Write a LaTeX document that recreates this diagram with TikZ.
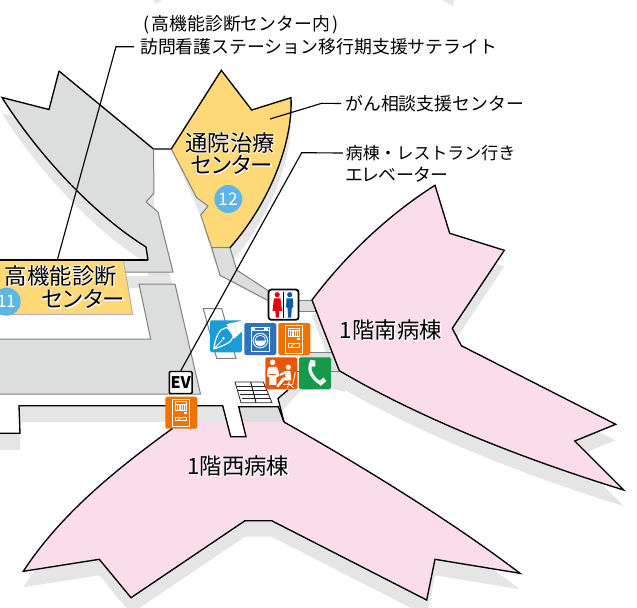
\documentclass[tikz,border=0pt]{standalone}
\usepackage{fontspec}
\setmainfont{Noto Sans CJK JP}
\newfontfamily\halofont[FakeBold=6]{Noto Sans CJK JP}
\newfontfamily\paltfont[RawFeature=+palt]{Noto Sans CJK JP}
\newfontfamily\paltfalo[FakeBold=6,RawFeature=+palt]{Noto Sans CJK JP}
\newcommand\hl[1]{\leavevmode\rlap{\color{white}\halofont #1}#1}
\newcommand\hlp[1]{\leavevmode\rlap{\color{white}\paltfalo #1}{\paltfont #1}}
\definecolor{wingpink}{HTML}{FADCEB}
\definecolor{wardgrey}{HTML}{DCDDDD}
\definecolor{shadowgrey}{HTML}{E5E5E5}
\definecolor{edgegrey}{HTML}{808080}
\definecolor{clinicyellow}{HTML}{FFD977}
\definecolor{numblue}{HTML}{5CB6E6}
\definecolor{vendorange}{HTML}{EF7300}
\definecolor{sitorange}{HTML}{EA5504}
\definecolor{penblue}{HTML}{1B9BD8}
\definecolor{washblue}{HTML}{2F72BA}
\definecolor{phonegreen}{HTML}{159A4B}
\definecolor{wcred}{HTML}{E60012}
\definecolor{wcblue}{HTML}{0C5DA8}
\tikzset{
  x=0.75pt,y=-0.75pt,
  blackedge/.style={draw=black,line width=1pt,line join=miter},
  greyedge/.style={draw=edgegrey,line width=0.75pt},
  leader/.style={draw=black,line width=0.85pt},
  biglabel/.style={inner sep=0pt,font=\fontsize{16.8}{20}\selectfont,text=black},
  outlabel/.style={inner sep=0pt,anchor=west,font=\fontsize{13.4}{16}\selectfont,text=black},
  numdot/.style={circle,fill=numblue,minimum size=21pt,inner sep=0pt,text=white,font=\fontsize{13}{13}\selectfont},
  iconbox/.style={fill=#1,rounded corners=1.2pt,draw=none},
  iconline/.style={draw=white,line width=0.5pt},
}
\newcommand\vendicon[2]{%
\begin{scope}[shift={(#1,#2)}]
\path[iconbox=vendorange] (0,0) rectangle (32,32);
\draw[iconline,line width=.7pt] (7.3,2.3) rectangle (24.3,30);
\draw[iconline] (9.7,5) rectangle (21.3,13.3);
\foreach \xx in {11.6,13.5,15.4,17.3,19.2}{\draw[iconline,line width=.35pt] (\xx,7.5)--(\xx,13.3);}
\draw[iconline,line width=.35pt] (9.7,7.5)--(21.3,7.5);
\fill[white] (19,15) rectangle (21.3,17.3);
\draw[iconline] (9.7,20.7) rectangle (21.3,24);
\draw[iconline] (12.5,23.5)--(16,21.2);
\end{scope}}
\newcommand\MapPoly{(2,97.5) -- (49,109.5) -- (59,71) -- (153.5,149) -- (154,193) -- (146,202) -- (158,212) -- (173,272) -- (125,272) -- (123,260) -- (148,260) -- (146,247) .. controls (90,212) and (35,150) .. (2,97.5) -- cycle}
\newcommand\YellowPoly{(171.3,149) -- (221.3,70.3) -- (251.7,110) -- (291,97.7) .. controls (293,140) and (272,200) .. (230,247.7) -- (211.7,247.7) -- (200.7,215) -- (208,206) -- (196.7,197.7) -- cycle}
\newcommand\SouthPoly{(312,300) .. controls (345,256) and (388,215) .. (435,185.3) -- (449.7,233.3) -- (504.3,250.3) -- (452.3,328.3) -- (461.3,345.7) -- (615.7,424.3) -- (574.7,441) -- (623.7,490) .. controls (520,458) and (420,418) .. (339.3,370.7) -- cycle}
\newcommand\WestOutline{(284,422) .. controls (360,465) and (450,520) .. (520,573.3) -- (435,559.3) -- (426.7,600) -- (271.7,520.7) -- (245,520.7) -- (131,597.7) -- (99.3,559.3) -- (23.3,571.3) .. controls (60,515) and (115,470) .. (172.7,428.3)}
\begin{document}
\begin{tikzpicture}
\useasboundingbox (0,0) rectangle (637,608);
\fill[white] (0,0) rectangle (637,608);
% shadows
\begin{scope}[shift={(0,16)}]
\fill[shadowgrey] \MapPoly;
\fill[shadowgrey] \YellowPoly;
\fill[shadowgrey] \SouthPoly;
\fill[shadowgrey] \WestOutline -- cycle;
\end{scope}
\fill[shadowgrey] (153,0) -- (157,3.5) -- (162,0) -- cycle;
\fill[shadowgrey] (441.7,0) -- (453,6) -- (454,0) -- cycle;
\fill[shadowgrey] (0,433.3) rectangle (20,450);
\fill[shadowgrey] (279,399) -- (282,411) -- (300,391) -- (330,388) -- (345,392) -- (339,371) -- (300,371) -- (288,390) -- cycle;
% clear the shadow that falls on the open hall
\fill[white] (153,165) -- (173,272) -- (173,284) -- (200,394) -- (204,406) -- (238,406) -- (278,398) -- (290,352) -- (312,310) -- (268,300) -- (218,273) -- (200,215) -- (171.3,149) -- cycle;
% left ward
\fill[wardgrey] \MapPoly;
\draw[blackedge] (59,71) -- (153.5,149) -- (171.3,149);
\draw[blackedge] (146,247) .. controls (90,212) and (35,150) .. (2,97.5) -- (49,109.5) -- (59,71);
\draw[blackedge] (146,247) -- (148,260);
\draw[greyedge] (153.5,149) -- (154,193) -- (146,202) -- (158,212) -- (173,272) -- (125,272);
% lower hall block
\fill[wardgrey] (139,284) -- (175,284) -- (200,394) -- (0,394) -- (0,339) -- (150.7,339) -- cycle;
\draw[greyedge] (0,339) -- (150.7,339) -- (139,284) -- (175,284) -- (200.5,394) -- (0,394);
% clinic 11
\fill[clinicyellow] (0,260) -- (123.3,260) -- (132.7,314.3) -- (0,314.3) -- cycle;
\draw[greyedge,draw=gray!60] (123.3,260) -- (132.7,314.3) -- (0,314.3);
\draw[blackedge] (0,260) -- (148,260);
% clinic 12 corridor
\fill[wardgrey] (211.7,247.7) -- (230,247.7) -- (236.7,270) -- (268.3,290.7) -- (268.3,300.7) -- (220,275.3) -- cycle;
\draw[greyedge] (230,247.7) -- (236.7,270) -- (268.3,290.7) (211.7,247.7) -- (220,275.3) -- (268.3,300.7);
% clinic 12
\fill[clinicyellow] \YellowPoly;
\draw[greyedge] (171.3,149) -- (196.7,197.7) -- (208,206) -- (200.7,215) -- (211.7,247.7) -- (230,247.7);
\draw[blackedge] (171.3,149) -- (221.3,70.3) -- (251.7,110) -- (291,97.7) .. controls (293,140) and (272,200) .. (230,247.7);
% right corridors
\fill[wardgrey] (299,300.7) -- (312,300.7) -- (316,311) -- (299,311) -- cycle;
\draw[greyedge] (299,300.7) -- (312,300.7) (299,311) -- (316,311);
\fill[wardgrey] (300,352.7) -- (333,352.7) -- (339,371) -- (300,371) -- cycle;
\draw[greyedge] (300,352.7) -- (333,352.7) (288,371) -- (339,371);
% south ward
\fill[wingpink] \SouthPoly;
\draw[blackedge] \SouthPoly;
% west corridor + ward
\fill[shadowgrey] (19,405.7) -- (222.7,405.7) -- (227,422) -- (19,422) -- cycle;
\fill[wardgrey] (238.7,406.7) -- (278.3,406.7) -- (284,422) -- (242.6,422) -- cycle;
\fill[wingpink] \WestOutline -- (176,422) -- (226.8,422) -- (230.7,436.7) -- (246,436.7) -- (242.6,422) -- cycle;
\draw[blackedge] \WestOutline;
\draw[blackedge] (0,433.3) -- (20,433.3) -- (19,405.7) -- (222.7,405.7) -- (230.7,436.7) -- (246,436.7) -- (238.7,406.7) -- (278.3,406.7) -- (284,422);
\draw[blackedge] (288,390) -- (278,398.5) -- (284,422);
% parallelogram under the pen
\draw[greyedge] (203.3,308.7) -- (221.7,308.7) -- (236,358.3) -- (216.7,358.3) -- cycle;
% stairs
\draw[draw=black!85,line width=.6pt] (235,382) -- (263.3,382) -- (272,402.7) -- (241,402.7) -- cycle;
\foreach \yy/\xa/\xb in {386/236.7/265,390/238.4/266.7,394/240/268.4,398/241.6/270}{\draw[draw=black!85,line width=.6pt] (\xa,\yy) -- (\xb,\yy);}
\draw[draw=black!85,line width=.8pt] (250.7,382) -- (256,402.7);
% labels and leaders
\node[outlabel] (tparen) at (143.3,25) {(\hspace{1.5pt}高機能診断センター内\hspace{1.5pt})};
\node[outlabel] (tvisit) at (140,46.7) {訪問看護ステーション移行期支援サテライト};
\node[outlabel] (tcancer) at (345,103.5) {がん相談支援センター};
\node[outlabel,font=\fontsize{12.7}{16}\selectfont] (tev) at (345.6,153) {病棟・レストラン行き};
\node[outlabel] (tev2) at (345.6,174.5) {\paltfont エレベーター};
\node[draw=black,line width=1.1pt,fill=white,rounded corners=.8pt,minimum width=17pt,minimum height=16.5pt,inner sep=0pt,font=\fontsize{12}{12}\selectfont\bfseries] (ev) at (180.7,382.5) {EV};
\coordinate (c11) at (57.3,260);
\coordinate (b1) at (116,46.7);
\coordinate (c12) at (270,119);
\coordinate (b2) at (321.7,103.3);
\coordinate (b3) at (301.7,152.7);
\draw[leader] (tvisit.west) ++(-6,0) -- (b1) -- (c11);
\draw[leader] (c12) -- (b2) -- ([xshift=-3pt]tcancer.west);
\draw[leader] (ev.north) -- (b3) -- ([xshift=-2pt]tev.west);
% big labels
\node[biglabel] (n12a) at (230,142.7) {\hl{通院治療}};
\node[biglabel] (n12b) at (231.7,165) {\hlp{センター}};
\node[numdot] (n12) at (228.3,199) {12};
\node[biglabel] (n11a) at (61,275.7) {\hl{高機能診断}};
\node[biglabel] (n11b) at (83.3,299.3) {\hlp{センター}};
\node[numdot] (n11) at (6.7,301.7) {11};
\node[biglabel] (south) at (391,330) {\hl{1階南病棟}};
\node[biglabel] (west) at (238.3,466) {\hl{1階西病棟}};
% vending
\vendicon{165.3}{396.7}
\vendicon{278.3}{323}
% WC
\begin{scope}
\draw[draw=black,line width=1.3pt,fill=white,rounded corners=2pt] (268.6,289.6) rectangle (298.6,319.8);
\draw[draw=black,line width=.8pt] (283.6,292) -- (283.6,317.5);
\fill[wcred] (277.2,294.7) circle[radius=2.6];
\fill[wcred] (274,298.3) -- (280.5,298.3) -- (282,310.8) -- (279.2,310.8) -- (278.8,317.7) -- (275.8,317.7) -- (275.4,310.8) -- (272.5,310.8) -- cycle;
\fill[wcblue] (289.7,294.7) circle[radius=2.6];
\fill[wcblue] (286.5,298.3) -- (292.9,298.3) -- (293.3,307) -- (291.8,308) -- (291.2,317.7) -- (288.2,317.7) -- (287.6,308) -- (286.1,307) -- cycle;
\end{scope}
% pen
\begin{scope}[shift={(210,320.3)}]
\path[iconbox=penblue] (0,0) rectangle (32,32);
\draw[draw=white,line width=.9pt,line join=round] (3.8,28.5) .. controls (5,20) and (7,14) .. (11,9.5) -- (17,7) -- (24,15) -- (20.5,21) .. controls (15,25) and (9,27) .. (3.8,28.5) -- cycle;
\draw[draw=white,line width=.6pt] (3.8,28.5) -- (12.5,19.5);
\fill[white] (13.5,18) circle[radius=1.4];
\fill[white] (16.5,4) -- (20,3) -- (32,0.5) -- (32,11) -- (24,18.5) -- cycle;
\end{scope}
% washer
\begin{scope}[shift={(244.3,323)}]
\path[iconbox=washblue] (0,0) rectangle (32,32);
\draw[iconline,line width=.7pt] (6.7,4) rectangle (25.3,28);
\draw[iconline] (6.7,7.6) -- (25.3,7.6);
\fill[white] (8,5) rectangle (10.5,6.6);
\fill[white] (20,5) rectangle (24,6.6);
\draw[iconline,line width=.7pt] (16,17.6) circle[radius=7.3];
\draw[iconline] (16,17.6) circle[radius=5.4];
\fill[white] (10.7,17.6) .. controls (13,16) and (14,19) .. (16,17.6) .. controls (18,16) and (19,19) .. (21.3,17.6) .. controls (21,21) and (19,23) .. (16,23) .. controls (13,23) and (11,21) .. (10.7,17.6) -- cycle;
\end{scope}
% sitting people
\begin{scope}[shift={(265.3,357.3)}]
\path[iconbox=sitorange] (0,0) rectangle (32,32);
\fill[white] (7.3,5) circle[radius=2.8];
\fill[white] (3.5,9.5) -- (11,9.5) .. controls (13,11) and (14,15) .. (13.5,19) -- (11,20) -- (11,27.5) -- (4,27.5) -- (4,20) -- (1.8,19) .. controls (1.5,15) and (2,11) .. (3.5,9.5) -- cycle;
\draw[draw=sitorange,line width=.5pt] (4,17) -- (11,17);
\fill[white] (23,10) circle[radius=2.6];
\fill[white] (20,13.5) -- (25,13.5) -- (26,23) -- (19,23) -- (13,30) -- (11,29) -- (17,20.5) -- (20,20) -- (20,16.5) -- (14.5,18.5) -- (14,17) -- cycle;
\draw[draw=white,line width=.6pt] (30,15) -- (27.5,27) -- (18,27) (24,24) -- (22,31) (24,27) -- (29,31);
\end{scope}
% phone
\begin{scope}[shift={(299,357.3)}]
\path[iconbox=phonegreen] (0,0) rectangle (32,32);
\draw[draw=white,line width=2.4pt] (11.5,6) .. controls (9.5,12) and (12,20) .. (21.5,26);
\fill[white,rotate around={-10:(13,6)}] (10.5,2.8) rectangle (16,9);
\fill[white,rotate around={40:(22,25)}] (19.5,23) rectangle (27,27.5);
\draw[draw=white,line width=.5pt] (15.5,3.5) .. controls (15,5) and (17,8) .. (16,9);
\end{scope}
\end{tikzpicture}
\end{document}
